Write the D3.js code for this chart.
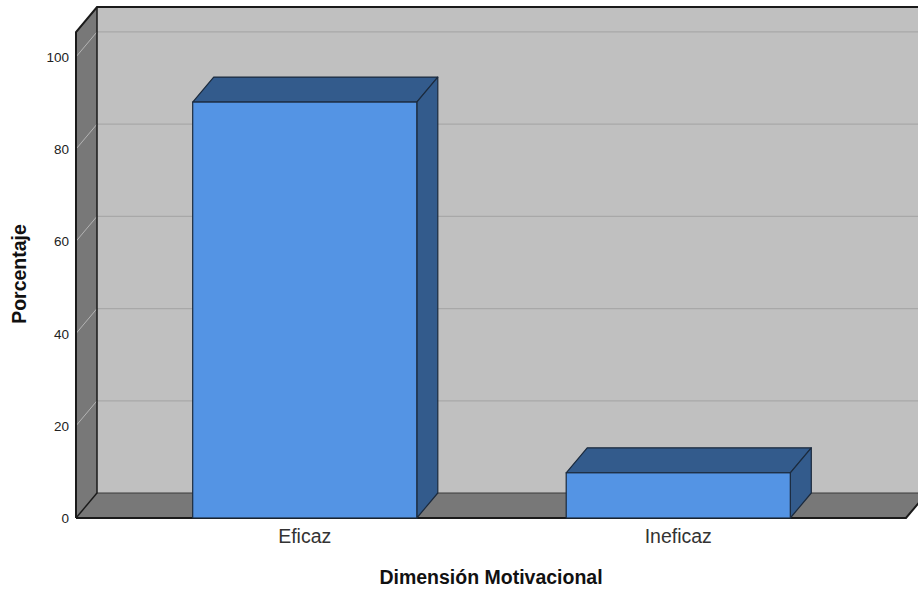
<!DOCTYPE html>
<html>
<head>
<meta charset="utf-8">
<script src="https://cdn.jsdelivr.net/npm/d3@7"></script>
<style>
  html, body { margin: 0; padding: 0; background: #fff; }
  svg { display: block; font-family: Arial, "Liberation Sans", sans-serif; }
</style>
</head>
<body>
<svg id="chart" width="918" height="592"></svg>
<script>
// Percentage per category
const categories = ["Eficaz", "Ineficaz"];
const percentages = [90.2, 9.8];
const yTicks = [0, 20, 40, 60, 80, 100];
const xTitle = "Dimensión Motivacional";
const yTitle = "Porcentaje";

const svg = d3.select("#chart");
const W = 918, H = 592;

// 3D depth offset of the back plane
const dx = 21, dy = -25;

const frontLeft = 76, frontRight = 906;
const yMax = 105.4;
const y = d3.scaleLinear().domain([0, yMax]).range([518, 32]);
const x = d3.scaleBand().domain(categories)
  .range([118, 865]).paddingInner(0.4).paddingOuter(0.2);

const wallDark = "#787878";
const wallBack = "#c0c0c0";
const edge = "#1a1a1a";

const line = d3.line();

// back wall
svg.append("rect")
  .attr("x", frontLeft + dx).attr("y", y(yMax) + dy)
  .attr("width", W - (frontLeft + dx) + 30)
  .attr("height", y(0) - y(yMax))
  .attr("fill", wallBack);

// gridlines on the back wall
svg.append("g").selectAll("line").data(yTicks.filter(d => d > 0)).join("line")
  .attr("x1", frontLeft + dx).attr("x2", W)
  .attr("y1", d => y(d) + dy).attr("y2", d => y(d) + dy)
  .attr("stroke", "#a8a8a8").attr("stroke-width", 1.2);

// floor
svg.append("path")
  .attr("d", line([[frontLeft, y(0)], [frontRight, y(0)], [frontRight + dx, y(0) + dy], [frontLeft + dx, y(0) + dy]]) + "Z")
  .attr("fill", wallDark);
svg.append("line")
  .attr("x1", frontLeft + dx).attr("x2", W)
  .attr("y1", y(0) + dy).attr("y2", y(0) + dy)
  .attr("stroke", "#3a3a3a").attr("stroke-width", 1);

// left side wall
svg.append("path")
  .attr("d", line([[frontLeft, y(0)], [frontLeft + dx, y(0) + dy], [frontLeft + dx, y(yMax) + dy], [frontLeft, y(yMax)]]) + "Z")
  .attr("fill", wallDark);

// gridline diagonals on the side wall
svg.append("g").selectAll("line").data(yTicks).join("line")
  .attr("x1", frontLeft).attr("x2", frontLeft + dx)
  .attr("y1", d => y(d)).attr("y2", d => y(d) + dy)
  .attr("stroke", "#b4b4b4").attr("stroke-width", 1);

// wall edges
const edges = svg.append("g").attr("fill", "none").attr("stroke", edge).attr("stroke-width", 2);
edges.append("path").attr("d", line([[frontLeft, y(0)], [frontLeft, y(yMax)], [frontLeft + dx, y(yMax) + dy], [W, y(yMax) + dy]]));
edges.append("path").attr("d", line([[frontLeft + dx, y(yMax) + dy], [frontLeft + dx, y(0) + dy], [frontLeft, y(0)]]))
  .attr("stroke-width", 1.5);
edges.append("path").attr("d", line([[frontLeft, y(0)], [frontRight, y(0)], [frontRight + dx, y(0) + dy]]));

// bars
const barFront = "#5494e4", barDark = "#335b8c", barEdge = "#1b2a3d";
const bars = svg.append("g").selectAll("g").data(categories.map((c, i) => ({ c, v: percentages[i] }))).join("g");
bars.append("path")
  .attr("d", d => {
    const x0 = x(d.c), x1 = x0 + x.bandwidth(), yt = y(d.v);
    return line([[x0, yt], [x0 + dx, yt + dy], [x1 + dx, yt + dy], [x1, yt]]) + "Z";
  })
  .attr("fill", barDark).attr("stroke", barEdge).attr("stroke-width", 1.2).attr("stroke-linejoin", "round");
bars.append("path")
  .attr("d", d => {
    const x1 = x(d.c) + x.bandwidth(), yt = y(d.v), yb = y(0);
    return line([[x1, yt], [x1 + dx, yt + dy], [x1 + dx, yb + dy], [x1, yb]]) + "Z";
  })
  .attr("fill", barDark).attr("stroke", barEdge).attr("stroke-width", 1.2).attr("stroke-linejoin", "round");
bars.append("rect")
  .attr("x", d => x(d.c)).attr("y", d => y(d.v))
  .attr("width", x.bandwidth()).attr("height", d => y(0) - y(d.v))
  .attr("fill", barFront).attr("stroke", barEdge).attr("stroke-width", 1.2);

// y tick labels
svg.append("g").selectAll("text").data(yTicks).join("text")
  .attr("x", 69).attr("y", d => y(d) + 5)
  .attr("text-anchor", "end").attr("font-size", 13.5).attr("fill", "#222")
  .text(d => d);

// category labels
svg.append("g").selectAll("text").data(categories).join("text")
  .attr("x", d => x(d) + x.bandwidth() / 2).attr("y", 543)
  .attr("text-anchor", "middle").attr("font-size", 19.5).attr("fill", "#333")
  .text(d => d);

// axis titles
svg.append("text")
  .attr("x", 491).attr("y", 584)
  .attr("text-anchor", "middle").attr("font-size", 19.5).attr("font-weight", "bold").attr("fill", "#111")
  .text(xTitle);
svg.append("text")
  .attr("transform", "translate(26,274) rotate(-90)")
  .attr("text-anchor", "middle").attr("font-size", 19.5).attr("font-weight", "bold").attr("fill", "#111")
  .text(yTitle);
</script>
</body>
</html>
